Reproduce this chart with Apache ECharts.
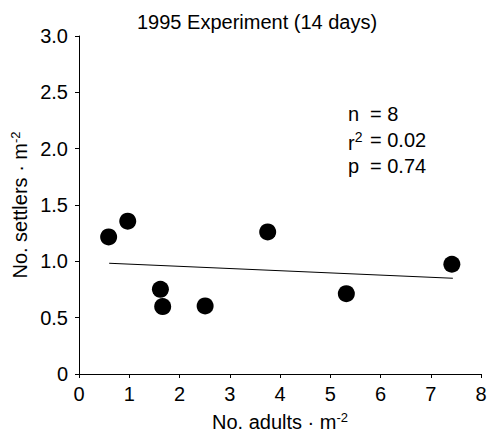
<!DOCTYPE html>
<html>
<head>
<meta charset="utf-8">
<script src="https://cdn.jsdelivr.net/npm/echarts@6/dist/echarts.min.js"></script>
<style>
html,body{margin:0;padding:0;background:#fff;}
#chart{width:488px;height:436px;}
</style>
</head>
<body>
<div id="chart"></div>
<script>
// Data
var adults = [0.59, 0.97, 1.62, 1.665, 2.51, 3.755, 5.32, 7.42];
var settlers = [1.217, 1.356, 0.752, 0.598, 0.604, 1.261, 0.713, 0.974];
var fitX = [0.60, 7.44];
var fitY = [0.983, 0.850];
var xTicks = [0, 1, 2, 3, 4, 5, 6, 7, 8];
var yTicks = [0, 0.5, 1.0, 1.5, 2.0, 2.5, 3.0];
var statsNames = ['n', 'r{s|2}', 'p'];
var statsValues = ['= 8', '= 0.02', '= 0.74'];
var titleText = '1995 Experiment (14 days)';

var FONT = '"Liberation Sans", Arial, Helvetica, sans-serif';

var points = adults.map(function (x, i) { return [x, settlers[i]]; });
var fit = fitX.map(function (x, i) { return [x, fitY[i]]; });

var graphics = [];
statsNames.forEach(function (t, i) {
  graphics.push({
    type: 'text', left: 348, top: 104 + i * 26,
    style: {
      text: t, fontFamily: FONT, fontSize: 20, fill: '#000',
      rich: {s: {fontFamily: FONT, fontSize: 14, fill: '#000', verticalAlign: 'top', padding: [0, 0, 11, 0]}}
    }
  });
  graphics.push({
    type: 'text', left: 370, top: 104 + i * 26,
    style: {text: statsValues[i], fontFamily: FONT, fontSize: 20, fill: '#000'}
  });
});

var chart = echarts.init(document.getElementById('chart'), null, {renderer: 'svg'});
chart.setOption({
  animation: false,
  backgroundColor: '#fff',
  title: {
    text: titleText,
    left: 132,
    top: 7,
    textStyle: {fontFamily: FONT, fontSize: 20, fontWeight: 'normal', color: '#000'}
  },
  grid: {left: 79, right: 7, top: 36, bottom: 62, containLabel: false, outerBoundsMode: 'none'},
  xAxis: {
    type: 'value',
    min: xTicks[0], max: xTicks[xTicks.length - 1], interval: 1,
    splitLine: {show: false},
    axisLine: {show: true, onZero: false, lineStyle: {color: '#000', width: 1}},
    axisTick: {show: true, length: 4, lineStyle: {color: '#000'}},
    axisLabel: {fontFamily: FONT, fontSize: 20, color: '#000', margin: 10},
    name: '{a|No. adults · m}{s|-2}',
    nameLocation: 'middle',
    nameGap: 37,
    nameMoveOverlap: false,
    nameTextStyle: {
      fontFamily: FONT, fontSize: 20, color: '#000',
      rich: {
        a: {fontFamily: FONT, fontSize: 20, color: '#000', lineHeight: 22},
        s: {fontFamily: FONT, fontSize: 13, color: '#000', verticalAlign: 'top', lineHeight: 22, padding: [0, 0, 10, 0]}
      }
    }
  },
  yAxis: {
    type: 'value',
    min: yTicks[0], max: yTicks[yTicks.length - 1], interval: 0.5,
    splitLine: {show: false},
    axisLine: {show: true, onZero: false, lineStyle: {color: '#000', width: 1}},
    axisTick: {show: true, length: 4, lineStyle: {color: '#000'}},
    axisLabel: {
      fontFamily: FONT, fontSize: 20, color: '#000', margin: 11,
      formatter: function (v) { return v === 0 ? '0' : v.toFixed(1); }
    },
    name: '{a|No. settlers · m}{s|-2}',
    nameLocation: 'middle',
    nameGap: 48,
    nameRotate: 90,
    nameMoveOverlap: false,
    nameTextStyle: {
      fontFamily: FONT, fontSize: 20, color: '#000',
      rich: {
        a: {fontFamily: FONT, fontSize: 20, color: '#000', lineHeight: 22},
        s: {fontFamily: FONT, fontSize: 13, color: '#000', verticalAlign: 'top', lineHeight: 22, padding: [0, 0, 10, 0]}
      }
    }
  },
  graphic: graphics,
  series: [
    {
      type: 'line',
      data: fit,
      symbol: 'none',
      lineStyle: {color: '#000', width: 1.2},
      silent: true,
      z: 1
    },
    {
      type: 'scatter',
      data: points,
      symbol: 'circle',
      symbolSize: 17,
      itemStyle: {color: '#000', opacity: 1},
      z: 2
    }
  ]
});
</script>
</body>
</html>
